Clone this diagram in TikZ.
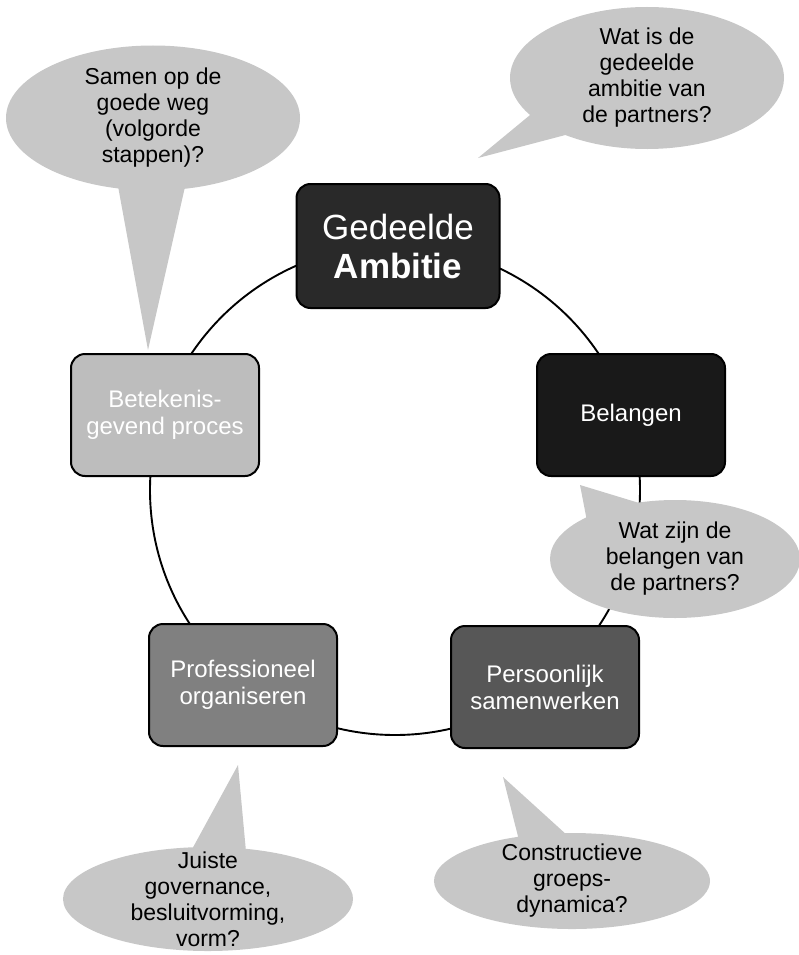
\documentclass[tikz,border=0pt]{standalone}
\usepackage{fontspec}
\setmainfont{Liberation Sans}
\usetikzlibrary{shapes.callouts}
\definecolor{ambitiegray}{gray}{0.16}
\definecolor{belangengray}{gray}{0.10}
\definecolor{persoonlijkgray}{gray}{0.34}
\definecolor{profgray}{gray}{0.50}
\definecolor{betekenisgray}{gray}{0.74}
\definecolor{bubblegray}{gray}{0.78}

\begin{document}
\begin{tikzpicture}[x=1pt,y=-1pt,line width=2pt,
box/.style={draw,rounded corners=14pt,minimum width=188pt,minimum height=122pt,align=center,text=white,font=\fontsize{24}{27}\selectfont},
bubble/.style={ellipse callout,fill=bubblegray,inner xsep=0pt,inner ysep=-30pt,align=center,font=\fontsize{23}{26}\selectfont}]

\useasboundingbox(0,0)rectangle(799,955);
\coordinate(centre) at (395,490);
\draw[line width=1.9pt](centre) circle (245pt);

\node[box,fill=ambitiegray,minimum width=203pt,minimum height=124pt,font=\fontsize{35}{39}\selectfont](amb) at (398,246){Gedeelde\\\textbf{Ambitie}};
\node[box,fill=belangengray](bel) at (631,415){Belangen};
\node[box,fill=persoonlijkgray](pers) at (545,687){Persoonlijk\\samenwerken};
\node[box,fill=profgray](prof) at (243,685){Professioneel\\organiseren};
\node[box,fill=betekenisgray](bet) at (165,415){Betekenis-\\gevend proces};

\coordinate(tipamb) at (478,158);
\coordinate(tipbet) at (148,350);
\coordinate(tipbel) at (580,485);
\coordinate(tipprof) at (238,765);
\coordinate(tippers) at (503,777);

\node[bubble,minimum width=274pt,minimum height=142pt,callout absolute pointer={(tipamb)},callout pointer arc=22](qamb) at (647,78){Wat is de\\gedeelde\\ambitie van\\de partners?};
\node[bubble,minimum width=294pt,minimum height=145pt,callout absolute pointer={(tipbet)},callout pointer arc=26](qbet) at (153,118){Samen op de\\goede weg\\(volgorde\\stappen)?};
\node[bubble,minimum width=250pt,minimum height=118pt,callout absolute pointer={(tipbel)},callout pointer arc=28](qbel) at (675,559){Wat zijn de\\belangen van\\de partners?};
\node[bubble,minimum width=290pt,minimum height=104pt,callout absolute pointer={(tipprof)},callout pointer arc=21](qprof) at (208,899){Juiste\\governance,\\besluitvorming,\\vorm?};
\node[bubble,minimum width=276pt,minimum height=96pt,callout absolute pointer={(tippers)},callout pointer arc=20](qpers) at (572,881){Constructieve\\groeps-\\dynamica?};

\end{tikzpicture}
\end{document}
